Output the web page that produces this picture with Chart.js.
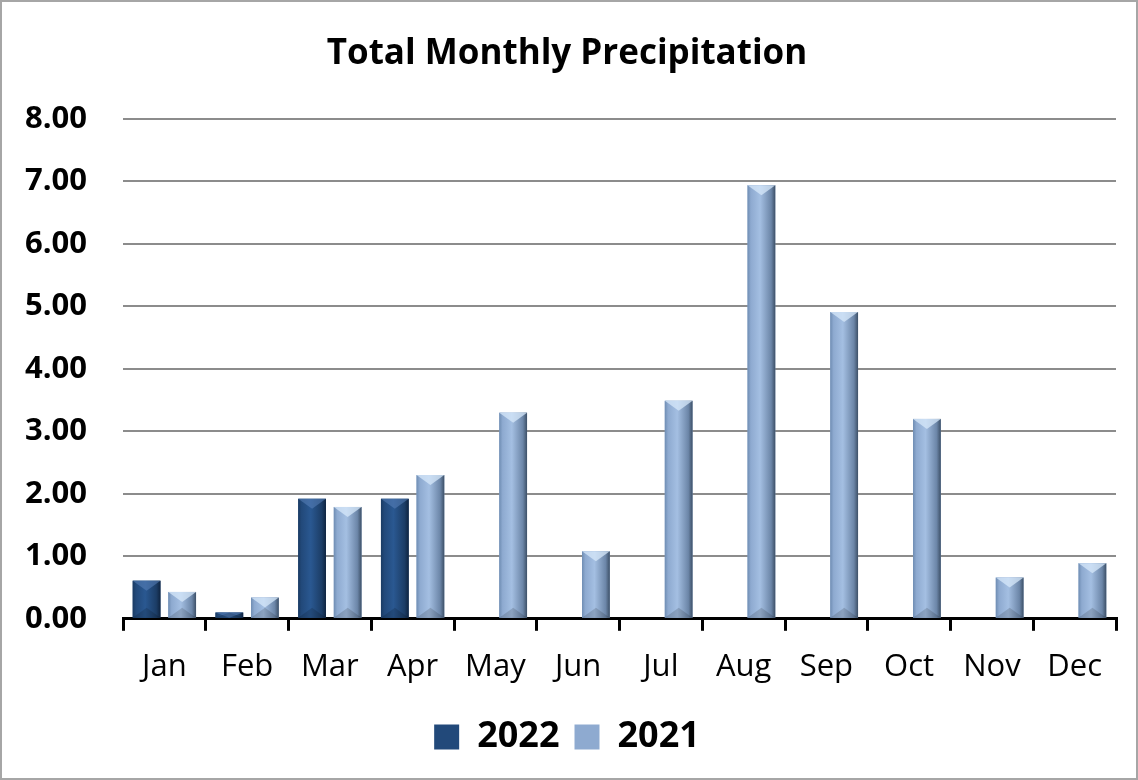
<!DOCTYPE html>
<html>
<head>
<meta charset="utf-8">
<script src="https://cdn.jsdelivr.net/npm/chart.js@4/dist/chart.umd.min.js"></script>
<style>
  html, body { margin: 0; padding: 0; background: #fff; }
  #wrap { width: 1138px; height: 780px; box-sizing: border-box; border: 2px solid #a6a6a6; background: #fff; }
</style>
</head>
<body>
<div id="wrap"><canvas id="precipChart" width="1134" height="776"></canvas></div>
<script>
var months = ['Jan', 'Feb', 'Mar', 'Apr', 'May', 'Jun', 'Jul', 'Aug', 'Sep', 'Oct', 'Nov', 'Dec'];
var rain2022 = [0.61, 0.10, 1.92, 1.92, null, null, null, null, null, null, null, null];
var rain2021 = [0.43, 0.34, 1.79, 2.30, 3.30, 1.08, 3.49, 6.94, 4.91, 3.20, 0.66, 0.89];
var yTicks = [0, 1, 2, 3, 4, 5, 6, 7, 8];

var fontFam = '"Open Sans", Lato, sans-serif';

// shading on each bar, drawn over the bar the library placed
var bevel = {
    id: 'bevel',
    afterDatasetDraw: function(chart, args) {
        var ctx = chart.ctx;
        var meta = args.meta;
        var dark = args.index === 0;
        ctx.save();
        meta.data.forEach(function(bar) {
            var p = bar.getProps(['x', 'y', 'base', 'width'], true);
            if (p.y == null || isNaN(p.y)) return;
            var left = p.x - p.width / 2, right = p.x + p.width / 2;
            var top = p.y, bottom = p.base;
            var h = bottom - top;
            if (h <= 0) return;
            var g = ctx.createLinearGradient(left, 0, right, 0);
            if (dark) {
                g.addColorStop(0, '#1a3b63');
                g.addColorStop(0.12, '#22497a');
                g.addColorStop(0.45, '#2a5891');
                g.addColorStop(0.85, '#1c3d66');
                g.addColorStop(1, '#0f2440');
            } else {
                g.addColorStop(0, '#6f8db3');
                g.addColorStop(0.12, '#8eaad0');
                g.addColorStop(0.45, '#a4bfe2');
                g.addColorStop(0.85, '#6c86a8');
                g.addColorStop(1, '#3d5067');
            }
            ctx.fillStyle = g;
            ctx.fillRect(left, top, p.width, h);
            // top bevel triangle
            var tri = Math.min(10, h);
            ctx.beginPath();
            ctx.moveTo(left, top);
            ctx.lineTo(right, top);
            ctx.lineTo(p.x, top + tri);
            ctx.closePath();
            ctx.fillStyle = dark ? 'rgba(90,130,185,0.55)' : 'rgba(215,232,250,0.75)';
            ctx.fill();
            // bottom bevel triangle
            ctx.beginPath();
            ctx.moveTo(left, bottom);
            ctx.lineTo(right, bottom);
            ctx.lineTo(p.x, bottom - tri);
            ctx.closePath();
            ctx.fillStyle = 'rgba(0,0,0,0.15)';
            ctx.fill();
        });
        ctx.restore();
    }
};

var ctx = document.getElementById('precipChart').getContext('2d');
new Chart(ctx, {
    type: 'bar',
    data: {
        labels: months,
        datasets: [
            {
                label: '2022',
                data: rain2022,
                backgroundColor: '#22497a',
                borderWidth: 0,
                barPercentage: 0.78,
                categoryPercentage: 0.86
            },
            {
                label: '2021',
                data: rain2021,
                backgroundColor: '#8eaad0',
                borderWidth: 0,
                barPercentage: 0.78,
                categoryPercentage: 0.86
            }
        ]
    },
    options: {
        responsive: false,
        animation: false,
        layout: { padding: { left: 16, right: 20, top: 20, bottom: 13 } },
        plugins: {
            title: {
                display: true,
                text: 'Total Monthly Precipitation',
                color: '#000',
                font: { family: fontFam, size: 35, weight: 'bold' },
                padding: { top: 11, bottom: 44 }
            },
            legend: {
                position: 'bottom',
                labels: {
                    color: '#000',
                    boxWidth: 25,
                    boxHeight: 25,
                    padding: 15,
                    font: { family: fontFam, size: 36, weight: 'bold' }
                }
            },
            tooltip: { enabled: false }
        },
        scales: {
            x: {
                grid: {
                    drawOnChartArea: false,
                    drawTicks: true,
                    tickLength: 12,
                    color: '#000',
                    lineWidth: 3
                },
                border: { display: true, color: '#000', width: 3 },
                ticks: {
                    color: '#000',
                    padding: 18,
                    font: { family: fontFam, size: 31 }
                }
            },
            y: {
                min: 0,
                max: 8,
                afterBuildTicks: function(axis) {
                    axis.ticks = yTicks.map(function(v) { return { value: v }; });
                },
                afterFit: function(axis) {
                    axis.width = 105;
                },
                grid: {
                    color: '#8c8c8c',
                    lineWidth: 2,
                    drawTicks: false
                },
                border: { display: false },
                ticks: {
                    color: '#000',
                    padding: 36,
                    font: { family: fontFam, size: 31, weight: 'bold' },
                    callback: function(v) { return Number(v).toFixed(2); }
                }
            }
        }
    },
    plugins: [bevel]
});
</script>
</body>
</html>
